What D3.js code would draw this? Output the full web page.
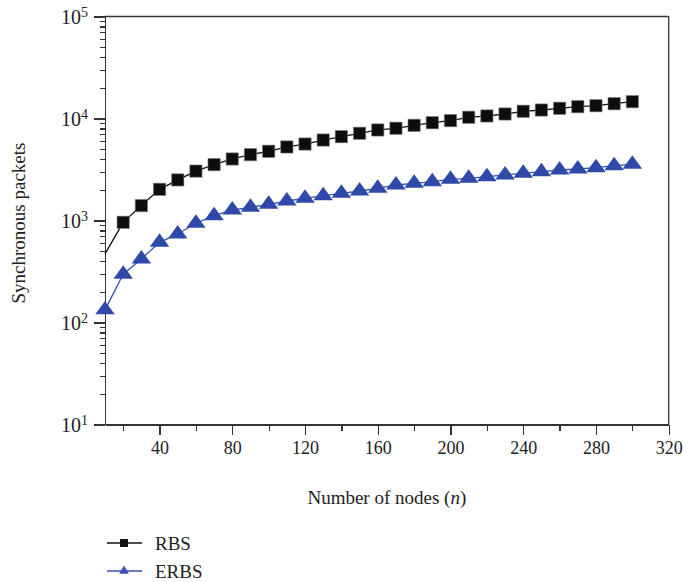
<!DOCTYPE html>
<html lang="en">
<head>
    <meta charset="UTF-8">
    <title>Synchronous packets</title>
    <script type="text/javascript" src="https://cdn.jsdelivr.net/npm/d3@7"></script>
    <style>
        body { margin: 0; background: #fff; }
        .axis path, .axis line { stroke: #333; stroke-width: 1.3px; shape-rendering: crispEdges; }
        .axis text { font-family: "Liberation Serif", "DejaVu Serif", serif; font-size: 18px; fill: #222; }
        .lbl { font-family: "Liberation Serif", "DejaVu Serif", serif; font-size: 19px; fill: #222; }
    </style>
</head>
<body>
<script type="text/javascript">
    var w = 683;
    var h = 582;

    // number of nodes
    var nodes = [10, 20, 30, 40, 50, 60, 70, 80, 90, 100, 110, 120, 130, 140, 150,
                 160, 170, 180, 190, 200, 210, 220, 230, 240, 250, 260, 270, 280, 290, 300];

    var rbs = [470, 960, 1400, 2020, 2500, 3050, 3530, 4010, 4420, 4770, 5260, 5620, 6150, 6640, 7160,
               7720, 8020, 8570, 9100, 9530, 10280, 10590, 11070, 11770, 12110, 12590, 13060, 13350, 13970, 14620];

    var erbs = [133, 297, 420, 611, 738, 940, 1114, 1268, 1346, 1442, 1553, 1651, 1750, 1849, 1946,
                2069, 2229, 2317, 2400, 2535, 2594, 2692, 2795, 2904, 3013, 3126, 3199, 3298, 3446, 3556];

    var xMajor = [40, 80, 120, 160, 200, 240, 280, 320];
    var xMinor = [20, 60, 100, 140, 180, 220, 260, 300];
    var yExp = [1, 2, 3, 4, 5];

    var pLeft = 105, pRight = 668.7, pTop = 16.5, pBottom = 424.5;

    var xScale = d3.scaleLinear().domain([10, 320]).range([pLeft, pRight]);
    var yScale = d3.scaleLog().domain([10, 1e5]).range([pBottom, pTop]);

    var svg = d3.select("body")
        .append("svg")
        .attr("width", w)
        .attr("height", h);

    // minor ticks
    var yMinor = [];
    yExp.slice(0, 4).forEach(function (e) {
        for (var k = 2; k <= 9; k++) yMinor.push(k * Math.pow(10, e));
    });

    svg.append("g")
        .attr("class", "axis")
        .attr("transform", "translate(0," + pBottom + ")")
        .call(d3.axisBottom(xScale).tickValues(xMinor).tickSize(6).tickFormat(""))
        .select(".domain").remove();

    svg.append("g")
        .attr("class", "axis")
        .attr("transform", "translate(" + pLeft + ",0)")
        .call(d3.axisLeft(yScale).tickValues(yMinor).tickSize(5).tickFormat(""))
        .select(".domain").remove();

    // major ticks
    svg.append("g")
        .attr("class", "axis")
        .attr("transform", "translate(0," + pBottom + ")")
        .call(d3.axisBottom(xScale).tickValues(xMajor).tickSize(10).tickSizeOuter(0).tickPadding(7));

    var yAx = svg.append("g")
        .attr("class", "axis")
        .attr("transform", "translate(" + pLeft + ",0)")
        .call(d3.axisLeft(yScale)
            .tickValues(yExp.map(function (e) { return Math.pow(10, e); }))
            .tickSize(11).tickSizeOuter(0).tickFormat(""));

    yAx.selectAll(".tick").append("text")
        .attr("x", -17)
        .attr("dy", "0.4em")
        .attr("text-anchor", "end")
        .each(function (d) {
            var t = d3.select(this);
            t.append("tspan").attr("font-size", "20px").text("10");
            t.append("tspan").attr("dy", "-0.5em").attr("font-size", "14px")
                .text(Math.round(Math.log10(d)));
        });

    // frame
    svg.append("line").attr("x1", pLeft).attr("x2", pRight).attr("y1", pTop).attr("y2", pTop)
        .attr("stroke", "#333").attr("stroke-width", 1.3);
    svg.append("line").attr("x1", pRight).attr("x2", pRight).attr("y1", pTop).attr("y2", pBottom)
        .attr("stroke", "#333").attr("stroke-width", 1.3);

    var lineFn = function (vals) {
        return d3.line()
            .x(function (d, i) { return xScale(nodes[i]); })
            .y(function (d) { return yScale(d); })(vals);
    };

    var square = d3.symbol().type(d3.symbolSquare).size(150);
    var tri = d3.symbol().type(d3.symbolTriangle).size(105);

    // RBS
    svg.append("path").attr("d", lineFn(rbs))
        .attr("fill", "none").attr("stroke", "#111").attr("stroke-width", 1.3);
    svg.selectAll(".rbs")
        .data(rbs.slice(1))
        .enter()
        .append("path")
        .attr("class", "rbs")
        .attr("d", square)
        .attr("transform", function (d, i) {
            return "translate(" + xScale(nodes[i + 1]) + "," + yScale(d) + ")";
        })
        .attr("fill", "#0d0d0d")
        .attr("stroke", "#777").attr("stroke-width", 0.6);

    // ERBS
    svg.append("path").attr("d", lineFn(erbs))
        .attr("fill", "none").attr("stroke", "#3a52b0").attr("stroke-width", 1.3);
    svg.selectAll(".erbs")
        .data(erbs)
        .enter()
        .append("path")
        .attr("class", "erbs")
        .attr("d", tri)
        .attr("transform", function (d, i) {
            return "translate(" + xScale(nodes[i]) + "," + yScale(d) + ") scale(1.25,1)";
        })
        .attr("fill", "#2f49a8");

    // axis titles
    svg.append("text").attr("class", "lbl")
        .attr("x", (pLeft + pRight) / 2).attr("y", 504)
        .attr("text-anchor", "middle")
        .html("Number of nodes (<tspan font-style='italic'>n</tspan>)");

    svg.append("text").attr("class", "lbl")
        .attr("transform", "translate(25,223) rotate(-90)")
        .attr("text-anchor", "middle")
        .text("Synchronous packets");

    // legend
    var legend = [
        {name: "RBS", color: "#111", sym: d3.symbol().type(d3.symbolSquare).size(64)},
        {name: "ERBS", color: "#3a52b0", sym: d3.symbol().type(d3.symbolTriangle).size(40)}
    ];
    var lg = svg.selectAll(".leg")
        .data(legend)
        .enter()
        .append("g")
        .attr("class", "leg")
        .attr("transform", function (d, i) { return "translate(107," + (543 + i * 28) + ")"; });
    lg.append("line").attr("x1", 0).attr("x2", 35)
        .attr("stroke", function (d) { return d.color; }).attr("stroke-width", 1.5);
    lg.append("path").attr("d", function (d) { return d.sym(); })
        .attr("transform", "translate(17,0)")
        .attr("fill", function (d) { return d.color; });
    lg.append("text").attr("class", "lbl")
        .attr("x", 48).attr("dy", "0.35em")
        .text(function (d) { return d.name; });
</script>
</body>
</html>
